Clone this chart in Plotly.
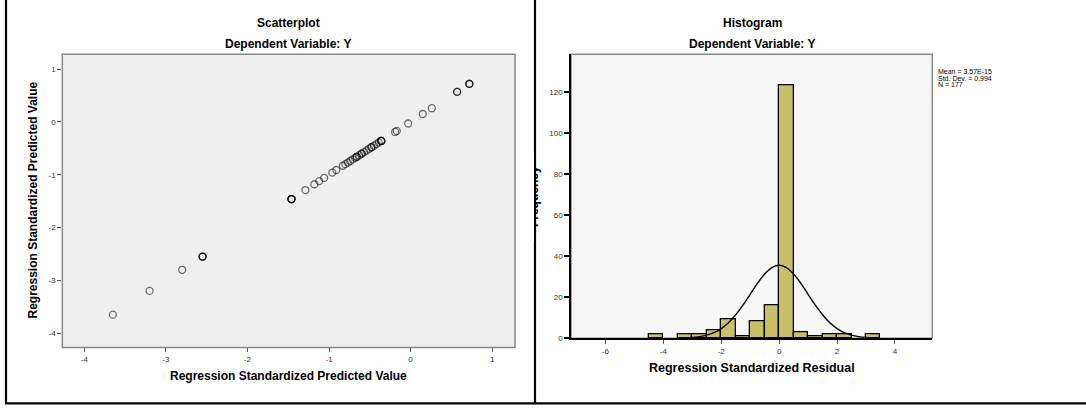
import plotly.graph_objects as go

W, H = 1086, 411

# ---- Scatterplot data (Regression Standardized Predicted Value vs itself) ----
pred_x = [-3.65, -3.20, -2.80, -2.55, -2.55, -2.55, -1.46, -1.46, -1.46, -1.46,
          -1.29, -1.18, -1.12, -1.06, -0.96, -0.91, -0.83, -0.80, -0.77, -0.74,
          -0.71, -0.68, -0.66, -0.66, -0.63, -0.60, -0.60, -0.57, -0.54, -0.51,
          -0.48, -0.48, -0.45, -0.42, -0.39, -0.36, -0.36, -0.36, -0.36,
          -0.19, -0.17, -0.03, 0.15, 0.26, 0.57, 0.57, 0.72, 0.72, 0.72]
pred_y = [-3.65, -3.20, -2.80, -2.55, -2.55, -2.55, -1.46, -1.46, -1.46, -1.46,
          -1.29, -1.18, -1.12, -1.06, -0.96, -0.91, -0.83, -0.80, -0.77, -0.74,
          -0.71, -0.68, -0.66, -0.66, -0.63, -0.60, -0.60, -0.57, -0.54, -0.51,
          -0.48, -0.48, -0.45, -0.42, -0.39, -0.36, -0.36, -0.36, -0.36,
          -0.19, -0.17, -0.03, 0.15, 0.26, 0.57, 0.57, 0.72, 0.72, 0.72]
scatter_ticks = [-4, -3, -2, -1, 0, 1]
scatter_ticktext = ["-4", "-3", "-2", "-1", "0", "1"]

# ---- Histogram data (Regression Standardized Residual) ----
bin_start = [-4.5, -3.5, -3.0, -2.5, -2.0, -1.5, -1.0, -0.5, 0.0, 0.5, 1.0, 1.5, 2.0, 3.0]
bin_count = [2, 2, 2, 4, 9, 1, 8, 16, 123, 3, 1, 2, 2, 2]
bin_width = 0.5
curve_x = [-3.25, -3.0, -2.75, -2.5, -2.25, -2.0, -1.75, -1.5, -1.25, -1.0, -0.75, -0.5, -0.25,
           0.0, 0.25, 0.5, 0.75, 1.0, 1.25, 1.5, 1.75, 2.0, 2.25, 2.5, 2.75, 3.0, 3.25]
curve_y = [0.2, 0.4, 0.8, 1.5, 2.7, 4.7, 7.5, 11.4, 16.1, 21.4, 26.7, 31.3, 34.4,
           35.5, 34.4, 31.3, 26.7, 21.4, 16.1, 11.4, 7.5, 4.7, 2.7, 1.5, 0.8, 0.4, 0.2]
hist_xticks = [-6, -4, -2, 0, 2, 4]
hist_xticktext = ["-6", "-4", "-2", "0", "2", "4"]
hist_yticks = [0, 20, 40, 60, 80, 100, 120]
stats_lines = ["Mean = 3.57E-15", "Std. Dev. = 0.994", "N = 177"]

FONT = "Liberation Sans, Arial, sans-serif"


def px(x):
    return x / W


def py(y):
    return 1 - y / H


fig = go.Figure()

fig.add_trace(go.Scatter(
    x=pred_x, y=pred_y, mode="markers", xaxis="x", yaxis="y",
    marker=dict(symbol="circle-open", size=7, color="rgba(0,0,0,0.55)",
                line=dict(width=1.3, color="rgba(0,0,0,0.55)")),
    hoverinfo="skip", showlegend=False))

fig.add_trace(go.Bar(
    x=bin_start, y=bin_count, width=bin_width, offset=0, xaxis="x2", yaxis="y2",
    marker=dict(color="#c8bf68", line=dict(color="black", width=1.3)),
    hoverinfo="skip", showlegend=False))

fig.add_trace(go.Scatter(
    x=curve_x, y=curve_y, mode="lines", xaxis="x2", yaxis="y2",
    line=dict(color="black", width=1.4, shape="spline"),
    hoverinfo="skip", showlegend=False))

tickfont = dict(family=FONT, size=8, color="#333333")

sc_dom_x = [px(62.3), px(515)]
sc_dom_y = [py(351.7), py(55)]
hi_dom_x = [px(571), px(932.3)]
hi_dom_y = [py(342.4), py(55)]

fig.update_layout(
    width=W, height=H, margin=dict(l=0, r=0, t=0, b=0),
    paper_bgcolor="white", plot_bgcolor="white", bargap=0,
    xaxis=dict(domain=sc_dom_x, range=[-4.27, 1.28], tickvals=scatter_ticks,
               ticktext=scatter_ticktext,
               showgrid=False, zeroline=False, ticks="outside", ticklen=4,
               tickcolor="#555555", tickwidth=1, tickfont=tickfont, anchor="y",
               showline=False),
    yaxis=dict(domain=sc_dom_y, range=[-4.27, 1.28], tickvals=scatter_ticks,
               ticktext=scatter_ticktext,
               showgrid=False, zeroline=False, ticks="outside", ticklen=4,
               tickcolor="#555555", tickwidth=1, tickfont=tickfont, anchor="x",
               showline=False),
    xaxis2=dict(domain=hi_dom_x, range=[-7.19, 5.29], tickvals=hist_xticks,
                ticktext=hist_xticktext,
                showgrid=False, zeroline=False, ticks="outside", ticklen=4,
                tickcolor="#555555", tickwidth=1, tickfont=tickfont, anchor="y2",
                showline=True, linecolor="black", linewidth=1.5),
    yaxis2=dict(domain=hi_dom_y, range=[0, 138.2], tickvals=hist_yticks,
                showgrid=False, zeroline=False, ticks="outside", ticklen=5,
                tickcolor="black", tickwidth=1.5, tickfont=tickfont, anchor="x2",
                showline=True, linecolor="black", linewidth=1.5),
)

shapes = [
    dict(type="rect", xref="paper", yref="paper", x0=sc_dom_x[0], x1=sc_dom_x[1],
         y0=sc_dom_y[0], y1=sc_dom_y[1], fillcolor="#efefef",
         line=dict(color="#888888", width=1.5), layer="below"),
    dict(type="rect", xref="paper", yref="paper", x0=hi_dom_x[0], x1=hi_dom_x[1],
         y0=hi_dom_y[0], y1=hi_dom_y[1], fillcolor="#f6f6f6",
         line=dict(color="#888888", width=1.5), layer="below"),
    dict(type="line", xref="paper", yref="paper", x0=px(6), x1=px(6), y0=py(0), y1=py(408.3),
         line=dict(color="black", width=2.2)),
    dict(type="line", xref="paper", yref="paper", x0=px(535), x1=px(535), y0=py(0), y1=py(408.3),
         line=dict(color="black", width=2.2)),
    dict(type="line", xref="paper", yref="paper", x0=px(5), x1=1, y0=py(408.3), y1=py(408.3),
         line=dict(color="black", width=2.2)),
]
fig.update_layout(shapes=shapes)


def ann(text, x, y, size=12, bold=True, **kw):
    t = f"<b>{text}</b>" if bold else text
    d = dict(text=t, x=px(x), y=py(y), xref="paper", yref="paper", showarrow=False,
             xanchor="center", yanchor="middle",
             font=dict(family=FONT, size=size, color="black"))
    d.update(kw)
    return d


annotations = [
    ann("Scatterplot", 288, 23),
    ann("Dependent Variable: Y", 288, 45),
    ann("Histogram", 752, 23),
    ann("Dependent Variable: Y", 752, 45),
    ann("Regression Standardized Predicted Value", 288, 381),
    ann("Regression Standardized Residual", 752, 373, size=12.5),
    ann("Regression Standardized Predicted Value", 33, 203, textangle=-90),
    ann("Frequency", 533.5, 199, textangle=-90),
    dict(text=" ", x=px(527), y=py(199), xref="paper", yref="paper", showarrow=False,
         xanchor="center", yanchor="middle",
         width=14, height=90, bgcolor="white", borderpad=0, borderwidth=0),
    dict(text=" ", x=px(535), y=py(199), xref="paper", yref="paper", showarrow=False,
         xanchor="center", yanchor="middle",
         width=2, height=90, bgcolor="black", borderpad=0, borderwidth=0),
]
for i, line in enumerate(stats_lines):
    annotations.append(ann(line, 935.5, 72.5 + 6.7 * i, size=7, bold=False,
                           xanchor="left", yanchor="middle", align="left"))
fig.update_layout(annotations=annotations)

fig.write_html("out.html")
